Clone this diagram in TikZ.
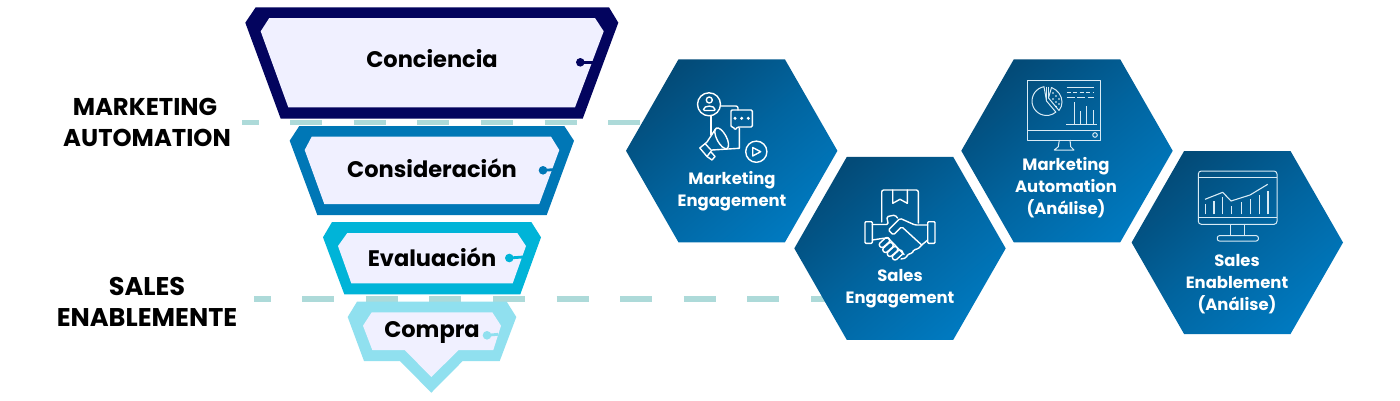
\documentclass[tikz,border=0pt]{standalone}
\usepackage{fontspec}
\setmainfont{Poppins}
\definecolor{navyband}{HTML}{03045E}
\definecolor{blueband}{HTML}{0077B6}
\definecolor{cyanband}{HTML}{00B4D8}
\definecolor{paleband}{HTML}{90E0EF}
\definecolor{innerfill}{HTML}{F0F0FF}
\definecolor{dashcol}{HTML}{ADDAD9}
\definecolor{hexdark}{HTML}{034B78}
\definecolor{hexlight}{HTML}{0079BF}
\tikzset{
  stagelabel/.style={font=\fontsize{#1}{#1}\selectfont\bfseries,text=black,inner sep=0pt,anchor=center},
  sidelabel/.style={font=\fontsize{24.3}{31}\selectfont\bfseries,text=black,inner sep=0pt,align=center},
  hexlabel/.style={font=\fontsize{16.4}{22}\selectfont\bfseries,text=white,inner sep=0pt,align=center},
  iconline/.style={draw=white,line width=1.4pt,line join=round,line cap=round},
  thinline/.style={draw=white!85!hexlight,line width=1pt,line join=round},
  splitter/.style={draw=dashcol,line width=5.3pt,dash pattern=on 32pt off 31.6pt},
  tagline/.style={line width=2.8pt},
}
% one hexagon with its diagonal gradient
\newcommand{\hexagonat}[2]{%
  \shade[top color=hexdark,bottom color=hexlight,shading angle=40,middle color=hexdark!45!hexlight]
    (#1-105.7,#2) -- (#1-53.2,#2-91.5) -- (#1+53.2,#2-91.5) -- (#1+105.7,#2)
    -- (#1+53.2,#2+91.5) -- (#1-53.2,#2+91.5) -- cycle;}
% one finger of the handshake
\newcommand{\fingerat}[2]{%
  \draw[rotate around={42:(#1,#2)},rounded corners=2.4pt] (#1-6,#2-2.7) rectangle (#1+6,#2+2.7);}
\begin{document}
\begin{tikzpicture}[x=1pt,y=-1pt]
\useasboundingbox (0,0) rectangle (1400,400);
\fill[white] (0,0) rectangle (1400,400);

% stage separators
\coordinate (mstart) at (242,122.7);
\coordinate (mend) at (640,122.7);
\coordinate (sstart) at (254,299);
\coordinate (send) at (843,299);
\draw[splitter,dash phase=15.4pt] (mstart) -- (mend);
\draw[splitter,dash phase=15.4pt] (sstart) -- (send);

% funnel: Conciencia
\fill[navyband] (255.7,7.3) -- (609,7.3) -- (618.3,22.7) -- (582.7,118.7) -- (280.7,118.7) -- (245.3,22.7) -- cycle;
\fill[innerfill] (269.3,18) -- (595,18) -- (603.7,31.3) -- (575,107.3) -- (288.3,107.3) -- (260.7,31.3) -- cycle;
\coordinate (dotA) at (580.3,62.3);
\coordinate (tagA) at (593,62.3);
\fill[navyband] (dotA) circle (4.3);
\draw[navyband,tagline] (dotA) -- (tagA);
\node[stagelabel=22.5] (conciencia) at (432,59) {Conciencia};

% funnel: Consideración
\fill[blueband] (299.3,126) -- (564.3,126) -- (574,140.7) -- (546.7,215) -- (317.3,215) -- (289.7,140.7) -- cycle;
\fill[innerfill] (311.7,136.7) -- (551,136.7) -- (559.3,150) -- (539.3,204) -- (324.3,204) -- (304.7,150) -- cycle;
\coordinate (dotB) at (543,170.3);
\coordinate (tagB) at (556,169.5);
\fill[blueband] (dotB) circle (4.3);
\draw[blueband,tagline] (dotB) -- (tagB);
\node[stagelabel=22.5] (consideracion) at (432,168) {Consideración};

% funnel: Evaluación
\fill[cyanband] (332,222) -- (531.3,222) -- (541,237.3) -- (520.3,294.3) -- (344.3,294.3) -- (323,237.3) -- cycle;
\fill[innerfill] (347.3,233) -- (517.3,233) -- (526,246) -- (512.7,283.3) -- (351.3,283.3) -- (338,246) -- cycle;
\coordinate (dotC) at (509.3,258);
\coordinate (tagC) at (523,257);
\fill[cyanband] (dotC) circle (4.3);
\draw[cyanband,tagline] (dotC) -- (tagC);
\node[stagelabel=22.5] (evaluacion) at (432,257) {Evaluación};

% funnel: Compra
\fill[paleband] (357,301.7) -- (506.7,301.7) -- (516.3,317) -- (499.7,361) -- (462.7,361) -- (431.3,392.7) -- (400,361) -- (364,361) -- (347.7,317) -- cycle;
\fill[innerfill] (371.7,312.3) -- (492.3,312.3) -- (501,325.7) -- (493.3,350) -- (458.7,350) -- (431.3,377) -- (404.7,350) -- (372.3,350) -- (363,325.7) -- cycle;
\coordinate (dotD) at (487,335.3);
\coordinate (tagD) at (498,334.3);
\fill[paleband] (dotD) circle (4.3);
\draw[paleband,tagline] (dotD) -- (tagD);
\node[stagelabel=22.5] (compra) at (432,332) {Compra};

% side headings
\node[sidelabel] (automation) at (145,122) {MARKETING\\\,AUTOMATION};
\node[sidelabel,font=\fontsize{25.6}{31}\selectfont\bfseries] (enablement) at (147,301.5) {SALES\\ENABLEMENTE};

% hexagons
\hexagonat{731.7}{150.8}
\hexagonat{900}{248.4}
\hexagonat{1067}{150.8}
\hexagonat{1237.3}{242.5}

\node[hexlabel] (hexA) at (732,191) {Marketing\\Engagement};
\node[hexlabel] (hexB) at (900,289) {Sales\\Engagement};
\node[hexlabel] (hexC) at (1066,187.5) {Marketing\\Automation\\(Análise)};
\node[hexlabel] (hexD) at (1237,284.5) {Sales\\Enablement\\(Análise)};

% icon: person, chat bubble, megaphone and play button
\begin{scope}[iconline]
  \draw (709,104.3) circle (11.5);
  \draw (709.3,100) circle (3);
  \draw[rounded corners=1pt] (703.5,110.5) .. controls (703.5,105) and (715,105) .. (715,110.5) -- cycle;
  \draw[rounded corners=2pt] (720.7,106) -- (738,106) -- (738,110);
  \draw (711,115.8) -- (711,135);
  \draw (712,150) -- (739.3,148.3) -- (739.3,128);
  \draw[rounded corners=1.2pt] (731,110) -- (752.3,110) -- (752.3,127) -- (737.5,127) -- (735,130) -- (733.5,127) -- (731,127) -- cycle;
  \fill[white] (735,118.3) circle (1.7) (741.7,118.3) circle (1.7) (748.3,118.3) circle (1.7);
  \draw (756.3,151.7) circle (10.6);
  \draw (752.7,147.5) -- (760.7,151.7) -- (752.7,156) -- cycle;
  \draw (715.5,129) -- (707,142) -- (699.8,148) -- (707,156.5) -- (712,150);
  \draw[rotate around={28:(721.7,138.3)}] (721.7,138.3) ellipse (4.8 and 11.5);
  \draw (707,156.5) -- (712,160) -- (715,156.5) -- (711.5,152.5);
  \draw (705,143.5) -- (711,150);
\end{scope}

% icon: parcel and handshake
\begin{scope}[iconline]
  \draw[rounded corners=2pt] (881.7,222) -- (881.7,190) -- (918.3,190) -- (918.3,223);
  \draw (892.7,190) -- (892.7,203.3) -- (900,199.3) -- (907.3,203.3) -- (907.3,190);
  \draw[rounded corners=1pt] (865,221.7) rectangle (872.3,243.3);
  \draw[rounded corners=1pt] (927.7,221.7) rectangle (935,243.3);
  \draw[rounded corners=1.5pt] (872.3,224.5) -- (888.3,224.5) -- (886.7,216.7) -- (895,215) -- (897.5,218);
  \draw[rounded corners=1.5pt] (927.7,225) -- (915,225) -- (900,218.3) -- (888.3,230) -- (893.3,235) -- (901.7,226.7) -- (921.7,245);
  \draw[rounded corners=1.5pt] (927.7,240) -- (921.7,245) -- (918,249) -- (914,249.5) -- (912,253.5) -- (908,254) -- (906,258) -- (901,259);
  \draw (872.3,240) -- (883.3,238.3) -- (888,238);
  \fingerat{884.5}{242.5}
  \fingerat{888}{247.5}
  \fingerat{892.5}{251.5}
  \fingerat{897.5}{255}
  \draw (888,238) -- (904,254.5);
\end{scope}

% icon: analytics monitor with pie chart
\begin{scope}[thinline]
  \draw (1027.7,80.3) rectangle (1100.7,140);
  \draw (1027.7,130) -- (1100.7,130);
  \draw (1095,135) circle (2.3);
  \draw (1059.3,140) -- (1058.3,146.7) -- (1054.3,150) -- (1074,150) -- (1070.7,146.7) -- (1070,140);
  \coordinate (piecentre) at (1046.5,101);
  \draw (1044,86.7) arc (-100:-310:14.5) -- (piecentre) -- cycle;
  \draw (1046.5,86.5) -- (1046.5,101);
  \draw (1048.5,86.7) -- (1048.5,98);
  \draw (1048.5,98) -- (1051.5,87.5) .. controls (1058,90) and (1062,96) .. (1062,102) .. controls (1062,105) and (1061,108) .. (1059,110.5) -- cycle;
  \fill[white] (1053,93) circle (0.8) (1056,96) circle (0.8) (1059,99) circle (0.8) (1053,99) circle (0.8) (1056,102) circle (0.8) (1059,104) circle (0.8) (1056,106.5) circle (0.8);
  \draw[line width=1.2pt] (1066.7,87.7) -- (1094,87.7);
  \draw[line width=1.2pt,dash pattern=on 4pt off 2.5pt] (1066.7,92.7) -- (1094,92.7);
  \draw[line width=1.2pt,dash pattern=on 8pt off 2.5pt] (1066.7,97.3) -- (1094,97.3);
  \draw (1066,124.3) -- (1096.7,124.3);
  \draw (1074.3,124.3) -- (1074.3,101.7);
  \draw (1080.7,124.3) -- (1080.7,111);
  \draw (1086.7,124.3) -- (1086.7,105.7);
  \draw (1093,124.3) -- (1093,110);
\end{scope}

% icon: monitor with line and bar chart
\begin{scope}[thinline]
  \draw[rounded corners=3pt] (1198.3,171) rectangle (1277,224.3);
  \draw (1198.3,177.3) -- (1277,177.3);
  \draw (1198.3,217.7) -- (1277,217.7);
  \draw (1230,224.3) -- (1230,235.7);
  \draw (1244.3,224.3) -- (1244.3,235.7);
  \draw[rounded corners=2pt] (1217.3,235.7) rectangle (1258.3,241);
  \draw[line width=1.1pt] (1205,199.3) -- (1222.7,192.3) -- (1231,201) -- (1250,195) -- (1267.7,184.3);
  \foreach \bx/\by in {1205.3/204.3,1214/200.7,1222.7/196.7,1231.7/205.7,1241.7/202.3,1250.7/199.3,1259.3/195,1268/191}
    \draw[line width=1.1pt] (\bx,214.3) -- (\bx,\by);
\end{scope}
\end{tikzpicture}
\end{document}
